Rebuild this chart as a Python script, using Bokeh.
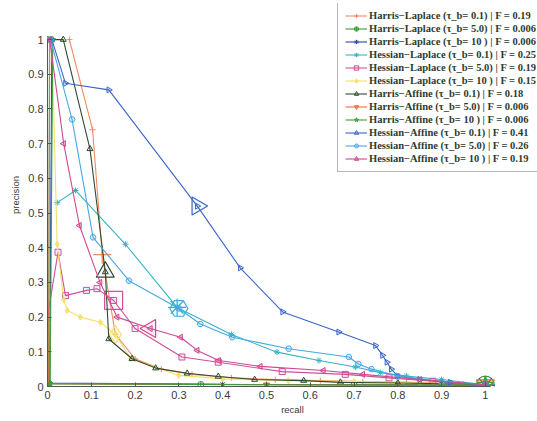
import math
from bokeh.plotting import figure
from bokeh.models import Legend, LegendItem, FixedTicker, Range1d
from bokeh.embed import file_html
from bokeh.resources import INLINE

# ---- data ----
labels = [
    "Harris\u2212Laplace (\u03c4_b= 0.1) | F = 0.19",
    "Harris\u2212Laplace (\u03c4_b= 5.0) | F = 0.006",
    "Harris\u2212Laplace (\u03c4_b= 10 ) | F = 0.006",
    "Hessian\u2212Laplace (\u03c4_b= 0.1) | F = 0.25",
    "Hessian\u2212Laplace (\u03c4_b= 5.0) | F = 0.19",
    "Hessian\u2212Laplace (\u03c4_b= 10 ) | F = 0.15",
    "Harris\u2212Affine (\u03c4_b= 0.1) | F = 0.18",
    "Harris\u2212Affine (\u03c4_b= 5.0) | F = 0.006",
    "Harris\u2212Affine (\u03c4_b= 10 ) | F = 0.006",
    "Hessian\u2212Affine (\u03c4_b= 0.1) | F = 0.41",
    "Hessian\u2212Affine (\u03c4_b= 5.0) | F = 0.26",
    "Hessian\u2212Affine (\u03c4_b= 10 ) | F = 0.19",
]

harlap_01_x = [0.05, 0.103, 0.125, 0.155, 0.2, 0.26, 0.33, 0.42, 0.52, 0.623, 0.72, 0.82, 0.9, 1.0]
harlap_01_y = [1.0, 0.74, 0.38, 0.15, 0.08, 0.05, 0.035, 0.025, 0.02, 0.017, 0.014, 0.012, 0.01, 0.005]
harlap_5_x = [0.0, 0.002, 0.35, 0.7, 0.95, 1.0]
harlap_5_y = [1.0, 0.008, 0.006, 0.005, 0.004, 0.004]
harlap_10_x = [0.01, 0.005, 0.4, 0.8, 1.0]
harlap_10_y = [1.0, 0.01, 0.006, 0.005, 0.004]

heslap_01_x = [0.022, 0.064, 0.178, 0.296, 0.42, 0.524, 0.62, 0.703, 0.76, 0.82, 0.9, 1.0]
heslap_01_y = [0.53, 0.565, 0.41, 0.228, 0.15, 0.099, 0.075, 0.056, 0.04, 0.03, 0.02, 0.005]
heslap_5_x = [0.0, 0.024, 0.041, 0.089, 0.113, 0.151, 0.2, 0.307, 0.39, 0.536, 0.68, 0.78, 0.88, 1.0]
heslap_5_y = [0.2, 0.387, 0.262, 0.277, 0.282, 0.248, 0.167, 0.085, 0.07, 0.043, 0.035, 0.025, 0.015, 0.005]
heslap_10_x = [0.01, 0.022, 0.037, 0.045, 0.075, 0.121, 0.155, 0.19, 0.3, 0.4, 0.55, 0.7, 0.85, 1.0]
heslap_10_y = [1.0, 0.41, 0.25, 0.219, 0.2, 0.185, 0.15, 0.08, 0.032, 0.022, 0.017, 0.014, 0.01, 0.005]

haraff_01_x = [0.0, 0.036, 0.097, 0.132, 0.14, 0.193, 0.247, 0.319, 0.39, 0.473, 0.585, 0.669, 0.8, 0.9, 1.0]
haraff_01_y = [1.0, 1.0, 0.685, 0.33, 0.137, 0.08, 0.053, 0.038, 0.029, 0.02, 0.017, 0.012, 0.01, 0.008, 0.005]
haraff_5_x = [0.005, 0.003, 0.5, 0.9, 1.0]
haraff_5_y = [1.0, 0.008, 0.005, 0.004, 0.004]
haraff_10_x = [0.012, 0.006, 0.5, 0.9, 1.0]
haraff_10_y = [1.0, 0.008, 0.005, 0.004, 0.004]

hesaff_01_x = [0.01, 0.041, 0.14, 0.342, 0.44, 0.537, 0.665, 0.749, 0.765, 0.775, 0.785, 0.8, 0.85, 0.92, 1.0]
hesaff_01_y = [1.0, 0.874, 0.855, 0.52, 0.342, 0.215, 0.157, 0.118, 0.09, 0.07, 0.05, 0.03, 0.02, 0.012, 0.005]
hesaff_5_x = [0.007, 0.056, 0.104, 0.186, 0.3, 0.349, 0.422, 0.551, 0.688, 0.71, 0.74, 0.8, 0.9, 1.0]
hesaff_5_y = [1.0, 0.77, 0.43, 0.305, 0.225, 0.18, 0.142, 0.109, 0.085, 0.065, 0.05, 0.03, 0.015, 0.005]
hesaff_10_x = [0.005, 0.037, 0.073, 0.12, 0.159, 0.235, 0.304, 0.342, 0.391, 0.486, 0.63, 0.72, 0.85, 1.0]
hesaff_10_y = [1.0, 0.70, 0.464, 0.3, 0.2, 0.167, 0.142, 0.104, 0.075, 0.058, 0.046, 0.035, 0.02, 0.005]

# index of the highlighted (best F) point per curve
best_index = [2, 5, 4, 3, 5, 6, 3, 4, 4, 3, 4, 5]

x_ticks = [0, 0.1, 0.2, 0.3, 0.4, 0.5, 0.6, 0.7, 0.8, 0.9, 1.0]
x_tick_labels = ["0", "0.1", "0.2", "0.3", "0.4", "0.5", "0.6", "0.7", "0.8", "0.9", "1"]
y_ticks = [0, 0.1, 0.2, 0.3, 0.4, 0.5, 0.6, 0.7, 0.8, 0.9, 1.0]
y_tick_labels = ["0", "0.1", "0.2", "0.3", "0.4", "0.5", "0.6", "0.7", "0.8", "0.9", "1"]

series_x = [harlap_01_x, harlap_5_x, harlap_10_x, heslap_01_x, heslap_5_x, heslap_10_x,
            haraff_01_x, haraff_5_x, haraff_10_x, hesaff_01_x, hesaff_5_x, hesaff_10_x]
series_y = [harlap_01_y, harlap_5_y, harlap_10_y, heslap_01_y, heslap_5_y, heslap_10_y,
            haraff_01_y, haraff_5_y, haraff_10_y, hesaff_01_y, hesaff_5_y, hesaff_10_y]

# ---- styles ----
colors = ["#f08a60", "#3a9a3a", "#2a48a8", "#34b4c4", "#d0509c", "#f2e06a",
          "#2f4a30", "#f06a40", "#3c9c3c", "#3a66c8", "#48a8e6", "#d0488e"]
markers = ["cross", "circle_cross", "asterisk", "asterisk", "square", "diamond",
           "triangle", "inverted_triangle", "star", "triangle", "hex", "triangle"]
angles = [0, 0, 0, 0, 0, 0, 0, 0, 0, -math.pi / 2, 0, math.pi / 2]
fills = [0.0, 0.0, 0.8, 0.0, 0.1, 0.8, 0.1, 0.5, 0.5, 0.1, 0.2, 0.3]

p = figure(width=537, height=421, output_backend="svg", toolbar_location=None,
           x_range=Range1d(0, 1.119), y_range=Range1d(0, 1.104),
           min_border_left=47, min_border_right=0, min_border_top=3, min_border_bottom=35)
p.outline_line_color = None
p.grid.visible = False
p.background_fill_color = "white"

items = []
for i in range(len(labels)):
    xs, ys = series_x[i], series_y[i]
    r_line = p.line(xs, ys, line_color=colors[i], line_width=1.1)
    r_pts = p.scatter(xs, ys, marker=markers[i], size=6, angle=angles[i],
                      line_color=colors[i], fill_color=colors[i], fill_alpha=fills[i],
                      line_width=1)
    b = best_index[i]
    p.scatter([xs[b]], [ys[b]], marker=markers[i], size=18, angle=angles[i],
              line_color=colors[i], fill_color=colors[i], fill_alpha=fills[i] * 0.3,
              line_width=1.2)
    items.append(LegendItem(label=labels[i], renderers=[r_line, r_pts]))

legend = Legend(items=items, location=(290, 214))
legend.label_text_font = "Liberation Serif"
legend.label_text_font_style = "bold"
legend.label_text_font_size = "10.5px"
legend.label_text_color = "#2c3c30"
legend.glyph_width = 22
legend.glyph_height = 11
legend.label_height = 11
legend.spacing = 2
legend.padding = 7
legend.margin = 0
legend.label_standoff = 2
legend.border_line_color = "#707070"
legend.border_line_width = 1
legend.background_fill_alpha = 1.0
p.add_layout(legend, "center")

for ax, ticks, lbls in ((p.xaxis[0], x_ticks, x_tick_labels), (p.yaxis[0], y_ticks, y_tick_labels)):
    ax.ticker = FixedTicker(ticks=ticks)
    ax.major_label_overrides = {t: l for t, l in zip(ticks, lbls)}
    ax.major_tick_in = 4
    ax.major_tick_out = 0
    ax.minor_tick_line_color = None
    ax.axis_line_color = "#4a5a50"
    ax.major_tick_line_color = "#4a5a50"
    ax.major_label_text_font = "Liberation Sans"
    ax.major_label_text_font_size = "11px"
    ax.major_label_text_color = "#3a3a3a"
    ax.axis_label_text_font = "Liberation Sans"
    ax.axis_label_text_font_size = "9.5px"
    ax.axis_label_text_font_style = "normal"
    ax.axis_label_text_color = "#3a3a3a"

p.xaxis.bounds = (0, 1.012)
p.yaxis.bounds = (0, 1.0)
p.xaxis.axis_label = "recall"
p.yaxis.axis_label = "precision"
p.xaxis.axis_label_standoff = 2
p.yaxis.axis_label_standoff = 4
p.xaxis.major_label_standoff = 4
p.yaxis.major_label_standoff = 4

open("out.html", "w").write(file_html(p, INLINE))
